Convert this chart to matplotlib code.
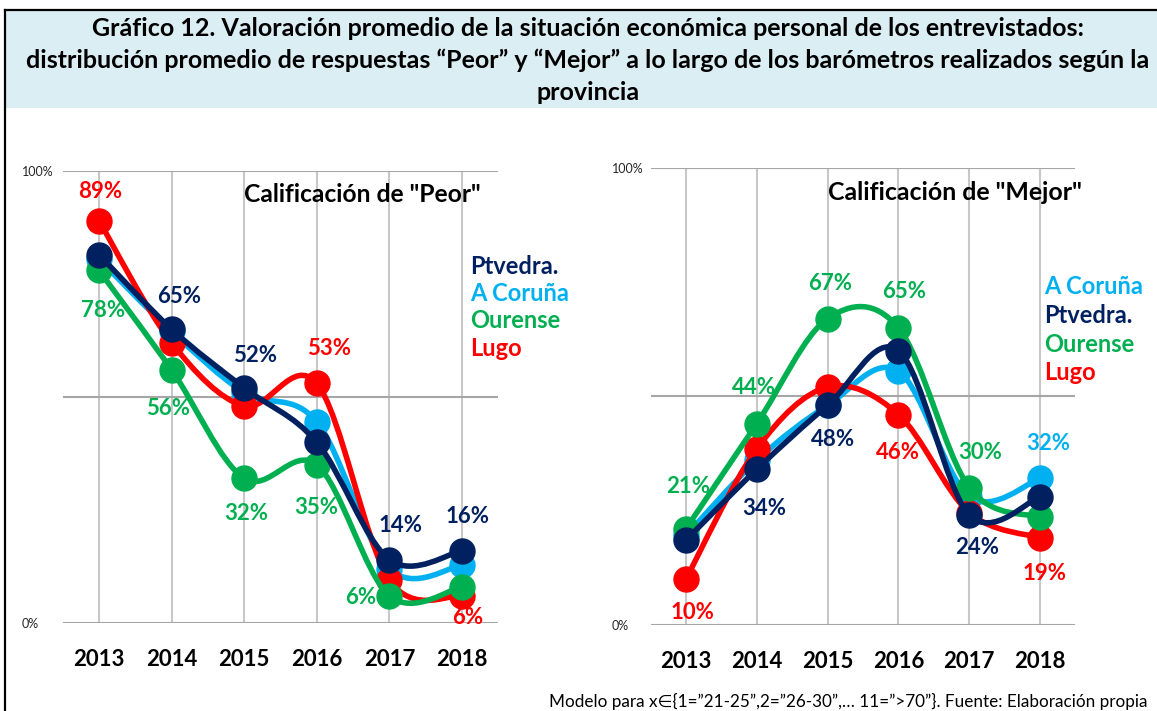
import numpy as np
import matplotlib
matplotlib.use("Agg")
import matplotlib.pyplot as plt
from matplotlib.path import Path
from matplotlib.patches import PathPatch, Rectangle
from matplotlib.lines import Line2D

plt.rcParams["font.family"] = ["Lato", "DejaVu Sans"]

# datos
years = ["2013", "2014", "2015", "2016", "2017", "2018"]
series_names = ["A Coruña", "Lugo", "Ourense", "Ptvedra."]

peor_coruna = [0.805, 0.645, 0.51, 0.445, 0.12, 0.128]
peor_lugo = [0.89, 0.62, 0.48, 0.53, 0.095, 0.06]
peor_ourense = [0.78, 0.56, 0.32, 0.35, 0.06, 0.08]
peor_ptvedra = [0.815, 0.65, 0.52, 0.40, 0.14, 0.16]

mejor_coruna = [0.195, 0.36, 0.48, 0.555, 0.28, 0.32]
mejor_lugo = [0.10, 0.385, 0.52, 0.46, 0.245, 0.19]
mejor_ourense = [0.21, 0.44, 0.67, 0.65, 0.30, 0.235]
mejor_ptvedra = [0.185, 0.34, 0.48, 0.60, 0.24, 0.28]

colors = {"A Coruña": "#00B0F0", "Lugo": "#FF0000",
          "Ourense": "#00B050", "Ptvedra.": "#002060"}

# etiquetas: (serie, índice año, desplazamiento px x, y)
peor_labels = [("Lugo", 0, 1, 29), ("Ourense", 0, 4, -40),
               ("Ptvedra.", 1, 8, 33), ("Ourense", 1, -4, -39),
               ("Ptvedra.", 2, 11, 32), ("Ourense", 2, 2, -35),
               ("Lugo", 3, 12, 35), ("Ourense", 3, -1, -43),
               ("Ptvedra.", 4, 11, 34), ("Ourense", 4, -29, -2),
               ("Ptvedra.", 5, 6, 34), ("Lugo", 5, 6, -22)]
mejor_labels = [("Ourense", 0, 2, 42), ("Lugo", 0, 6, -34),
                ("Ourense", 1, -3, 36), ("Ptvedra.", 1, 7, -39),
                ("Ourense", 2, 3, 35), ("Ptvedra.", 2, 5, -34),
                ("Ourense", 3, 6, 36), ("Lugo", 3, 0, -38),
                ("Ourense", 4, 11, 35), ("Ptvedra.", 4, 8, -33),
                ("A Coruña", 5, 8, 35), ("Lugo", 5, 5, -36)]

W, H = 1157, 711


def smooth_path(xs, ys):
    # curva suavizada tipo Excel (Catmull-Rom con Bezier)
    p = np.column_stack([xs, ys])
    n = len(p)
    verts = [p[0]]
    codes = [Path.MOVETO]
    for i in range(n - 1):
        p0 = p[max(i - 1, 0)]
        p1 = p[i]
        p2 = p[i + 1]
        p3 = p[min(i + 2, n - 1)]
        verts += [p1 + (p2 - p0) / 6, p2 - (p3 - p1) / 6, p2]
        codes += [Path.CURVE4] * 3
    return Path(verts, codes)


def draw_chart(ax, data, labels, title, legend_order, title_xy, title_size,
               legend_xy, tick_pad):
    x = np.arange(len(years))
    order = ["A Coruña", "Lugo", "Ourense", "Ptvedra."]
    for z, name in enumerate(order):
        vals = data[name]
        ax.add_patch(PathPatch(smooth_path(x, vals), fill=False, ec=colors[name],
                               lw=4, capstyle="round", joinstyle="round", zorder=3 + z))
        ax.plot(x, vals, "o", ms=18, color=colors[name], zorder=3 + z)
    for name, i, dx, dy in labels:
        v = data[name][i]
        ax.annotate(f"{v * 100:.0f}%", (x[i], v), xytext=(dx * 0.72, dy * 0.72),
                    textcoords="offset points", ha="center", va="center",
                    fontsize=16, fontweight="bold", color=colors[name], zorder=10)
    ax.set_xlim(-0.5, len(years) - 0.5)
    ax.set_ylim(0, 1)
    ax.set_xticks(x)
    ax.set_xticklabels(years, fontsize=16, fontweight="bold")
    ax.set_yticks([0, 0.5, 1])
    ax.set_yticklabels(["0%", "", "100%"], fontsize=9, color="#262626")
    for lab in ax.get_yticklabels():
        lab.set_horizontalalignment("left")
    ax.tick_params(axis="x", length=0, pad=19)
    ax.tick_params(axis="y", length=0, pad=tick_pad)
    for s in ax.spines.values():
        s.set_visible(False)
    for yv in [0, 0.5, 1]:
        ax.axhline(yv, color="#A6A6A6", lw=1.5, zorder=1)
    for xv in x:
        ax.plot([xv, xv], [0, 1], color="#C8C8C8", lw=1.5, zorder=0.5)
    ax.set_facecolor("none")

    fig = ax.figure
    fig.text(title_xy[0] / W, 1 - title_xy[1] / H, title, ha="left", va="center",
             fontsize=title_size, fontweight="bold", color="black")
    lx, ly0, dly = legend_xy
    for k, name in enumerate(legend_order):
        fig.text(lx / W, 1 - (ly0 + k * dly) / H, name, ha="left", va="center",
                 fontsize=17, fontweight="bold", color=colors[name])


fig = plt.figure(figsize=(W / 100, H / 100), dpi=100)
fig.patch.set_facecolor("white")

# cabecera
fig.add_artist(Rectangle((5 / W, 1 - 108 / H), 1 - 5 / W, 97 / H,
                         transform=fig.transFigure, facecolor="#DAEEF3",
                         edgecolor="none", zorder=0))
fig.add_artist(Line2D([5 / W, 1], [1 - 10 / H, 1 - 10 / H], color="black",
                      lw=1.6, transform=fig.transFigure))
fig.add_artist(Line2D([5 / W, 5 / W], [0, 1 - 10 / H], color="black",
                      lw=1.6, transform=fig.transFigure))

title_lines = ["Gráfico 12. Valoración promedio de la situación económica personal de los entrevistados:",
               "distribución promedio de respuestas “Peor” y “Mejor” a lo largo de los barómetros realizados según la",
               "provincia"]
for k, line in enumerate(title_lines):
    fig.text(588 / W, 1 - (28 + 32 * k) / H, line, ha="center", va="center",
             fontsize=18, fontweight="bold", color="black")

ax1 = fig.add_axes([62.7 / W, 1 - 623 / H, 435.6 / W, 452 / H])
ax2 = fig.add_axes([650.6 / W, 1 - 624.5 / H, 424.8 / W, 456.5 / H])

peor = {"A Coruña": peor_coruna, "Lugo": peor_lugo,
        "Ourense": peor_ourense, "Ptvedra.": peor_ptvedra}
mejor = {"A Coruña": mejor_coruna, "Lugo": mejor_lugo,
         "Ourense": mejor_ourense, "Ptvedra.": mejor_ptvedra}

draw_chart(ax1, peor, peor_labels, "Calificación de \"Peor\"",
           ["Ptvedra.", "A Coruña", "Ourense", "Lugo"],
           (244, 195), 17.7, (470, 266, 27.5), 29.5)
draw_chart(ax2, mejor, mejor_labels, "Calificación de \"Mejor\"",
           ["A Coruña", "Ptvedra.", "Ourense", "Lugo"],
           (828, 193), 17.9, (1044, 287, 28.5), 27.8)

fig.text(549 / W, 1 - 710 / H,
         "Modelo para x∈{1=”21-25”,2=”26-30”,… 11=”>70”}. Fuente: Elaboración propia",
         ha="left", va="bottom", fontsize=12.3, color="black",
         family=["Lato", "DejaVu Sans"])

fig.savefig("out.png", dpi=100)
